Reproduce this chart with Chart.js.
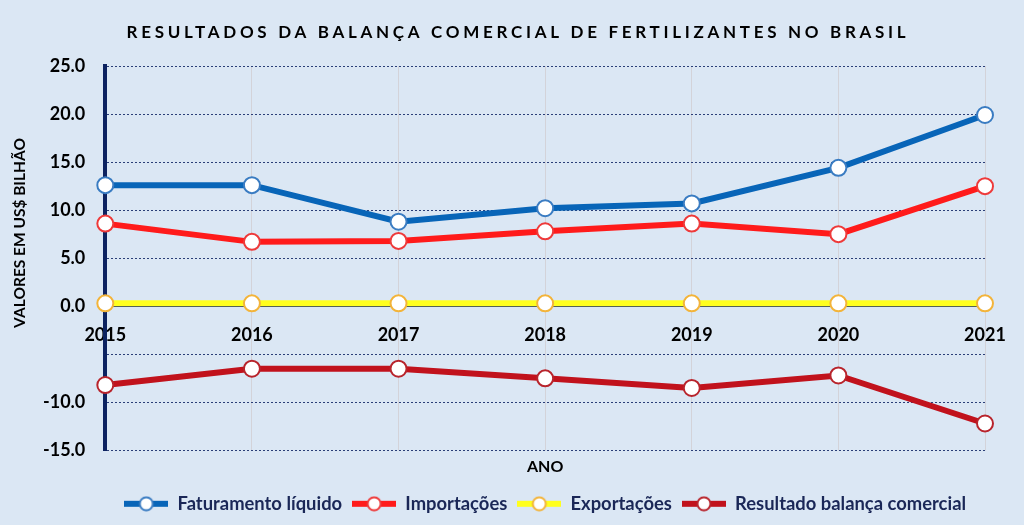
<!DOCTYPE html>
<html>
<head>
<meta charset="utf-8">
<script src="https://cdn.jsdelivr.net/npm/chart.js@4.4.0/dist/chart.umd.min.js"></script>
<style>
  html, body { margin: 0; padding: 0; background: #dbe7f4; }
  #wrap { width: 1024px; height: 525px; }
</style>
</head>
<body>
<div id="wrap"><canvas id="balancaChart" width="1024" height="525"></canvas></div>
<script>
// dados
var anos = ["2015", "2016", "2017", "2018", "2019", "2020", "2021"];
var faturamento = [12.6, 12.6, 8.8, 10.2, 10.7, 14.4, 19.9];
var importacoes = [8.6, 6.7, 6.8, 7.8, 8.6, 7.5, 12.5];
var exportacoes = [0.3, 0.3, 0.3, 0.3, 0.3, 0.3, 0.3];
var resultado = [-8.2, -6.5, -6.5, -7.5, -8.5, -7.2, -12.2];
var yTicks = [25, 20, 15, 10, 5, 0, -10, -15];

var FONT = "Lato, 'Open Sans', sans-serif";

// legend icon: line with a white circle
function legendIcon(lineColor, ringColor) {
    var c = document.createElement('canvas');
    c.width = 44; c.height = 16;
    var g = c.getContext('2d');
    g.strokeStyle = lineColor;
    g.lineWidth = 6;
    g.beginPath(); g.moveTo(0, 8); g.lineTo(44, 8); g.stroke();
    g.fillStyle = '#fff';
    g.strokeStyle = ringColor;
    g.lineWidth = 2;
    g.beginPath(); g.arc(22, 8, 6.5, 0, Math.PI * 2); g.fill(); g.stroke();
    return c;
}

function serie(label, data, line, ring) {
    return {
        label: label,
        data: data,
        borderColor: line,
        backgroundColor: line,
        borderWidth: 6,
        pointRadius: 8,
        pointHoverRadius: 8,
        pointBorderWidth: 2,
        pointBackgroundColor: '#ffffff',
        pointBorderColor: ring,
        tension: 0,
        icon: legendIcon(line, ring)
    };
}

// title, drawn by hand for the letter spacing
var textosPlugin = {
    id: 'textos',
    afterDraw: function (chart) {
        var ctx = chart.ctx;
        ctx.save();
        ctx.fillStyle = '#000';
        ctx.textAlign = 'center';
        ctx.textBaseline = 'middle';
        ctx.font = "bold 17px " + FONT;
        ctx.letterSpacing = '3.7px';
        ctx.fillText('RESULTADOS DA BALANÇA COMERCIAL DE FERTILIZANTES NO BRASIL', 518, 33);
        ctx.letterSpacing = '0px';
        ctx.font = "bold 15.5px " + FONT;
        ctx.translate(20, 233);
        ctx.rotate(-Math.PI / 2);
        ctx.fillText('VALORES EM US$ BILHÃO', 0, 0);
        ctx.restore();
    }
};

var ctx = document.getElementById("balancaChart").getContext('2d');
var myChart = new Chart(ctx, {
    type: 'line',
    data: {
        labels: anos,
        datasets: [
            serie("Faturamento líquido", faturamento, '#0865b8', '#3a7cc2'),
            serie("Importações", importacoes, '#ff1b1b', '#ee3a3a'),
            serie("Exportações", exportacoes, '#ffff1e', '#f3b43a'),
            serie("Resultado balança comercial", resultado, '#c1121c', '#b8242c')
        ]
    },
    plugins: [textosPlugin],
    options: {
        responsive: false,
        animation: false,
        layout: { padding: { top: 66, left: 23, right: 39, bottom: 2 } },
        scales: {
            x: {
                position: { y: 0 },
                offset: false,
                grid: { color: '#d3d3d9', lineWidth: 1, drawTicks: false },
                border: { display: true, color: '#1c2f66', width: 1 },
                ticks: { color: '#000', padding: 18, maxRotation: 0, font: { family: FONT, size: 18, weight: 'bold' } }
            },
            y: {
                min: -15,
                max: 25,
                afterBuildTicks: function (axis) {
                    axis.ticks = [25, 20, 15, 10, 5, 0, -5, -10, -15].map(function (v) { return { value: v }; });
                },
                grid: { color: '#2b3f78', lineWidth: 1, drawTicks: false },
                border: { display: true, color: '#0c2260', width: 4, dash: [2, 2] },
                ticks: {
                    color: '#000',
                    padding: 20,
                    font: { family: FONT, size: 18, weight: 'bold' },
                    callback: function (v) { return yTicks.indexOf(v) >= 0 ? v.toFixed(1) : ''; }
                }
            }
        },
        plugins: {
            title: { display: false },
            subtitle: {
                display: true,
                text: 'ANO',
                position: 'bottom',
                fullSize: false,
                weight: 500,
                color: '#000',
                font: { family: FONT, size: 16, weight: 'bold' },
                padding: { top: 7, bottom: 8 }
            },
            legend: {
                position: 'bottom',
                fullSize: false,
                labels: {
                    usePointStyle: true,
                    pointStyleWidth: 44,
                    padding: 10,
                    color: '#1a2757',
                    font: { family: FONT, size: 18.4, weight: 'bold' },
                    generateLabels: function (chart) {
                        var items = Chart.defaults.plugins.legend.labels.generateLabels(chart);
                        items.forEach(function (it) {
                            it.pointStyle = chart.data.datasets[it.datasetIndex].icon;
                        });
                        return items;
                    }
                }
            },
            tooltip: { enabled: false }
        }
    }
});
</script>
</body>
</html>
